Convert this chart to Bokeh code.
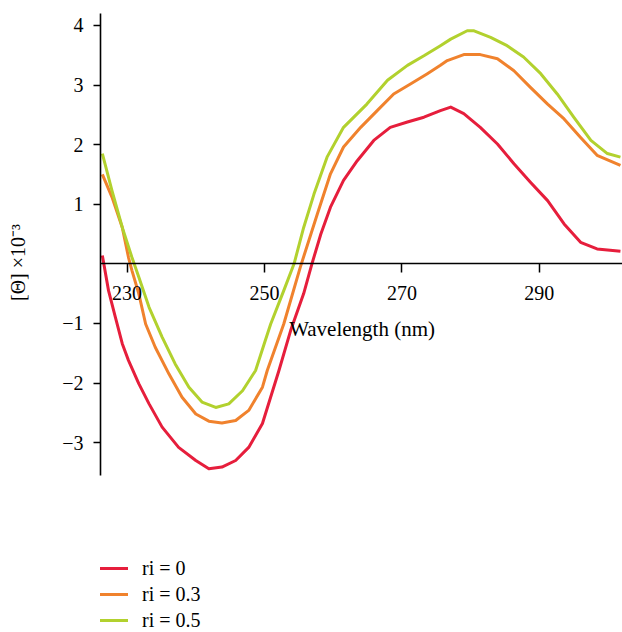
from bokeh.plotting import figure
from bokeh.layouts import column
from bokeh.models import (Range1d, FixedTicker, Legend, LegendItem, Label)
from bokeh.embed import file_html
from bokeh.resources import INLINE

# ---------------- data ----------------
wl_r0 = [226.4, 227.3, 228.3, 229.3, 230.2, 231.7, 233.2, 235.1, 237.5, 240.0,
         241.9, 243.8, 245.8, 247.7, 249.7, 252.1, 253.8, 255.7, 256.9, 258.2,
         259.6, 261.5, 263.5, 265.9, 268.3, 270.8, 273.2, 275.6, 277.1, 279.0,
         281.4, 283.9, 286.3, 288.7, 291.2, 293.6, 296.0, 298.4, 301.8]
cd_r0 = [0.14, -0.45, -0.90, -1.34, -1.62, -2.01, -2.35, -2.74, -3.08, -3.30,
         -3.44, -3.41, -3.30, -3.08, -2.68, -1.79, -1.12, -0.50, 0.00, 0.50,
         0.95, 1.40, 1.73, 2.07, 2.29, 2.38, 2.46, 2.57, 2.63, 2.52,
         2.29, 2.01, 1.68, 1.37, 1.06, 0.67, 0.36, 0.25, 0.21]

wl_r3 = [226.4, 227.8, 229.3, 230.2, 230.7, 231.7, 232.7, 234.1, 236.1, 238.0,
         240.0, 241.9, 243.8, 245.8, 247.7, 249.7, 250.4, 252.8, 255.2, 257.7,
         259.6, 261.5, 264.0, 266.4, 268.8, 271.3, 273.7, 275.6, 276.6, 279.0,
         281.4, 283.9, 286.3, 288.7, 291.2, 293.6, 296.0, 298.4, 301.8]
cd_r3 = [1.50, 1.12, 0.61, 0.11, -0.11, -0.50, -1.01, -1.40, -1.85, -2.24,
         -2.52, -2.64, -2.67, -2.63, -2.46, -2.07, -1.79, -1.01, -0.06, 0.84,
         1.51, 1.96, 2.29, 2.57, 2.85, 3.02, 3.19, 3.33, 3.41, 3.51,
         3.51, 3.44, 3.24, 2.96, 2.68, 2.43, 2.12, 1.82, 1.65]

wl_r5 = [226.4, 227.8, 229.3, 230.7, 231.7, 233.2, 235.1, 237.0, 239.0, 240.9,
         242.9, 244.8, 246.8, 248.7, 250.1, 250.9, 252.8, 254.3, 255.7, 257.2,
         259.1, 261.5, 264.9, 267.9, 270.8, 273.2, 275.6, 277.1, 279.5, 280.5,
         282.9, 285.3, 287.7, 290.2, 292.6, 295.0, 297.5, 299.9, 301.8]
cd_r5 = [1.85, 1.23, 0.61, 0.11, -0.22, -0.73, -1.23, -1.68, -2.07, -2.32,
         -2.41, -2.35, -2.13, -1.79, -1.29, -1.01, -0.45, 0.00, 0.61, 1.17,
         1.79, 2.29, 2.68, 3.08, 3.33, 3.49, 3.66, 3.77, 3.91, 3.91,
         3.80, 3.66, 3.47, 3.19, 2.85, 2.46, 2.07, 1.85, 1.79]

series_labels = ["ri = 0", "ri = 0.3", "ri = 0.5"]
series_colors = ["#E61E3C", "#F0822D", "#B2D12E"]

x_ticks = [230, 250, 270, 290]
y_ticks = [-3, -2, -1, 1, 2, 3, 4]
y_tick_labels = {-3: "\u22123", -2: "\u22122", -1: "\u22121",
                 1: "1", 2: "2", 3: "3", 4: "4"}

SERIF = "Liberation Serif"

xs = [wl_r0, wl_r3, wl_r5]
ys = [cd_r0, cd_r3, cd_r5]

# ---------------- main chart ----------------
p = figure(width=622, height=524, output_backend="svg", toolbar_location=None,
           x_range=Range1d(226.13, 302.1), y_range=Range1d(-4.374, 4.418),
           min_border_left=100, min_border_right=0, min_border_top=0,
           min_border_bottom=0)
p.outline_line_color = None
p.grid.visible = False
p.border_fill_color = "white"

for x, y, c in zip(xs, ys, series_colors):
    p.line(x, y, line_color=c, line_width=3, line_join="round")

# x axis crossing at y = 0
xa = p.xaxis[0]
xa.fixed_location = 0
xa.ticker = FixedTicker(ticks=x_ticks)
xa.minor_tick_line_color = None
xa.major_tick_in = 0
xa.major_tick_out = 9
xa.major_tick_line_width = 1.5
xa.axis_line_width = 1.3
xa.axis_line_color = "black"
xa.major_tick_line_color = "black"
xa.major_label_text_font = SERIF
xa.major_label_text_font_size = "20px"
xa.major_label_text_color = "black"
xa.major_label_standoff = 13

ya = p.yaxis[0]
ya.ticker = FixedTicker(ticks=y_ticks)
ya.major_label_overrides = y_tick_labels
ya.bounds = (-3.55, 4.2)
ya.minor_tick_line_color = None
ya.major_tick_in = 0
ya.major_tick_out = 7
ya.major_tick_line_width = 1.5
ya.axis_line_width = 1.6
ya.axis_line_color = "black"
ya.major_tick_line_color = "black"
ya.major_label_text_font = SERIF
ya.major_label_text_font_size = "20px"
ya.major_label_text_color = "black"
ya.major_label_standoff = 10
ya.axis_label = "[\u0398] \u00d710\u207b\u00b3"
ya.axis_label_text_font = SERIF
ya.axis_label_text_font_size = "20px"
ya.axis_label_text_font_style = "normal"
ya.axis_label_text_color = "black"
ya.axis_label_standoff = 30

xlabel = Label(x=264.2, y=-1.10, text="Wavelength (nm)",
               text_font=SERIF, text_font_size="21px", text_color="black",
               text_align="center", text_baseline="alphabetic")
p.add_layout(xlabel)

# ---------------- legend strip below ----------------
# the key lines reuse the series data; the strip's ranges keep them out of view
p2 = figure(width=622, height=108, output_backend="svg", toolbar_location=None,
            x_range=Range1d(0, 1), y_range=Range1d(0, 1),
            x_axis_location=None, y_axis_location=None,
            min_border=0, min_border_left=93)
p2.outline_line_color = None
p2.grid.visible = False
p2.border_fill_color = "white"
key_renderers = [p2.line(x, y, line_color=c, line_width=3)
                 for x, y, c in zip(xs, ys, series_colors)]

legend = Legend(items=[LegendItem(label=l, renderers=[r])
                       for l, r in zip(series_labels, key_renderers)],
                location=(-7, 0))
legend.background_fill_alpha = 0
legend.border_line_color = None
legend.padding = 0
legend.margin = 0
legend.spacing = 2
legend.glyph_width = 35
legend.glyph_height = 24
legend.label_height = 24
legend.label_standoff = 14
legend.label_text_font = SERIF
legend.label_text_font_size = "20px"
legend.label_text_color = "black"
p2.add_layout(legend)

open("out.html", "w").write(file_html(column(p, p2, spacing=0), INLINE))
